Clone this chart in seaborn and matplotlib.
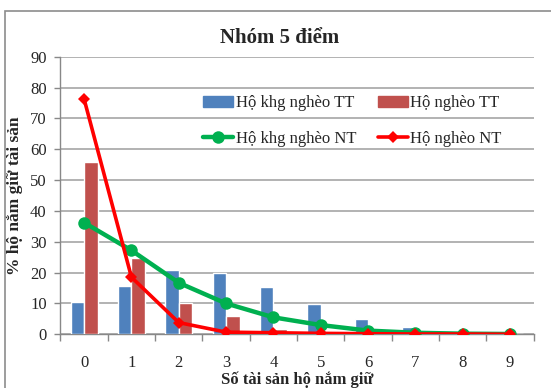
import matplotlib
matplotlib.use("Agg")
import matplotlib.pyplot as plt
import seaborn as sns
import pandas as pd
from matplotlib.lines import Line2D
from matplotlib.patches import Patch, Rectangle

categories = [0, 1, 2, 3, 4, 5, 6, 7, 8, 9]
khg_ngheo_tt = [10.5, 15.5, 20.7, 20.0, 15.3, 9.8, 5.0, 2.3, 0.3, 0.1]
ngheo_tt = [55.8, 24.8, 10.3, 5.9, 1.8, 0.8, 0.5, 0.2, 0.1, 0.0]
khg_ngheo_nt = [36.2, 27.2, 16.7, 10.0, 5.5, 3.0, 1.2, 0.5, 0.2, 0.1]
ngheo_nt = [76.2, 18.5, 3.8, 0.7, 0.5, 0.3, 0.2, 0.1, 0.1, 0.0]
labels = ["Hộ khg nghèo TT", "Hộ nghèo TT", "Hộ khg nghèo NT", "Hộ nghèo NT"]
title = "Nhóm 5 điểm"
xlabel = "Số tài sản hộ nắm giữ"
ylabel = "% hộ nắm giữ tài sản"

sns.set_style("white")
plt.rcParams['font.family'] = ['Liberation Serif', 'DejaVu Serif']

bar_df = pd.DataFrame({
    "x": categories * 2,
    "val": khg_ngheo_tt + ngheo_tt,
    "series": [labels[0]] * 10 + [labels[1]] * 10,
})
line_df = pd.DataFrame({
    "x": categories * 2,
    "val": khg_ngheo_nt + ngheo_nt,
    "series": [labels[2]] * 10 + [labels[3]] * 10,
})

c_blue, c_red, c_green, c_redl = "#4F81BD", "#C0504D", "#00B050", "#FF0000"

fig = plt.figure(figsize=(5.51, 3.88), dpi=100)
ax = fig.add_axes([0.1098, 0.1384, 0.9684 - 0.1098, 0.8539 - 0.1384])

sns.barplot(data=bar_df, x="x", y="val", hue="series", palette=[c_blue, c_red],
            width=0.57, gap=0, ax=ax, legend=False, saturation=1, zorder=3)

sub_g = line_df[line_df.series == labels[2]]
sub_r = line_df[line_df.series == labels[3]]
sns.lineplot(data=sub_g, x="x", y="val", color=c_green, lw=3.2, marker="o",
             markersize=9, markeredgewidth=0, ax=ax, zorder=4)
sns.lineplot(data=sub_r, x="x", y="val", color=c_redl, lw=2.6, marker="D",
             markersize=6.5, markeredgewidth=0, ax=ax, zorder=5)

ax.set_xlim(-0.5, 9.5)
ax.set_ylim(0, 90)
ax.set_yticks(range(0, 91, 10))
ax.yaxis.grid(True, color="#A6A6A6", lw=1.2, zorder=0)
ax.set_axisbelow(True)
ax.set_xticks(categories)
ax.set_xticklabels([str(c) for c in categories], fontsize=12)
ax.tick_params(axis="x", length=0, pad=15)
ax.tick_params(axis="y", labelsize=12, length=4, width=1, color="#888888", pad=6, left=True)
ax.set_xticks([i - 0.5 for i in range(11)], minor=True)
ax.tick_params(axis="x", which="minor", length=5, width=1, color="#888888", bottom=True, direction="out")
for s in ["top", "right"]:
    ax.spines[s].set_visible(False)
for s in ["left", "bottom"]:
    ax.spines[s].set_color("#888888")
    ax.spines[s].set_linewidth(1)

ax.set_xlabel(xlabel, fontsize=12, fontweight="bold", labelpad=0)
ax.set_ylabel(ylabel, fontsize=12.5, fontweight="bold", labelpad=5)
ax.set_title(title, fontsize=15, fontweight="bold", pad=10,
             x=(280 - 60.5) / (533.6 - 60.5))

handles = [
    Patch(color=c_blue),
    Line2D([], [], color=c_green, lw=3.2, marker="o", markersize=9, markeredgewidth=0),
    Patch(color=c_red),
    Line2D([], [], color=c_redl, lw=2.6, marker="D", markersize=6.5, markeredgewidth=0),
]
leg_labels = [labels[0], labels[2], labels[1], labels[3]]
ax.legend(handles, leg_labels, ncol=2, frameon=False, fontsize=12,
          loc="upper left", bbox_to_anchor=(0.27, 0.915), handlelength=1.8,
          handletextpad=0.15, columnspacing=1.3, labelspacing=1.2)

fig.add_artist(Rectangle((5 / 551, -0.1), 1.2, (388 - 10.5) / 388 + 0.1,
                         transform=fig.transFigure, fill=False,
                         edgecolor="#8C8C8C", lw=1.2))

fig.savefig("out.png", dpi=100)
